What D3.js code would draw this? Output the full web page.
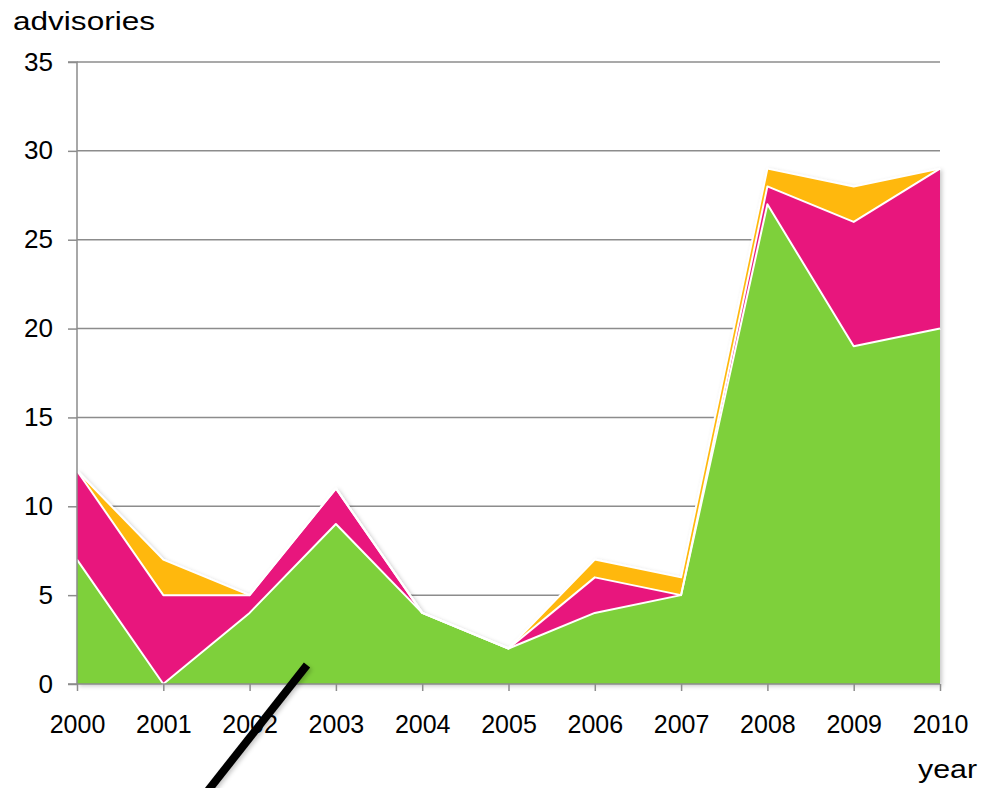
<!DOCTYPE html>
<html><head><meta charset="utf-8">
<script src="https://cdn.jsdelivr.net/npm/d3@7"></script>
<style>body{margin:0;background:#fff}text{font-family:"Liberation Sans",Arial,sans-serif}</style>
</head><body>
<svg id="c" width="984" height="788"></svg>
<script>
const years = [2000,2001,2002,2003,2004,2005,2006,2007,2008,2009,2010];
const greenVals  = [7,0,4,9,4,2,4,5,27,19,20];
const pinkVals   = [5,5,1,2,0,0,2,0,1,7,9];
const orangeVals = [0,2,0,0,0,0,1,1,1,2,0];
const yTicks = [0,5,10,15,20,25,30,35];
const seriesNames = ["green","pink","orange"];
const colors = {green:"#7ED03B", pink:"#E8197D", orange:"#FFB80C"};

const svg = d3.select("#c");
const x = d3.scaleLinear().domain([2000,2010]).range([77,940]);
const y = d3.scaleLinear().domain([0,35]).range([684,62]);

const defs = svg.append("defs");
const f = defs.append("filter").attr("id","sh").attr("x","-10%").attr("y","-10%").attr("width","130%").attr("height","130%");
f.append("feDropShadow").attr("dx",2).attr("dy",2).attr("stdDeviation",2).attr("flood-color","#000").attr("flood-opacity",0.22);

// gridlines
svg.append("g").selectAll("line").data(yTicks.filter(d=>d>0)).join("line")
  .attr("x1",x(2000)).attr("x2",x(2010)).attr("y1",d=>y(d)).attr("y2",d=>y(d))
  .attr("stroke","#8c8c8c").attr("stroke-width",1.5);

const table = years.map((yr,i)=>({year:yr, green:greenVals[i], pink:pinkVals[i], orange:orangeVals[i]}));
const stacked = d3.stack().keys(seriesNames)(table);

const area = d3.area().x(d=>x(d.data.year)).y0(d=>y(d[0])).y1(d=>y(d[1]));
const line = d3.line().x(d=>x(d.data.year)).y(d=>y(d[1]));

const g = svg.append("g").attr("filter","url(#sh)");
g.selectAll("path.a").data(stacked).join("path").attr("class","a")
  .attr("d",area).attr("fill",d=>colors[d.key]);
g.selectAll("path.l").data(stacked).join("path").attr("class","l")
  .attr("d",line).attr("fill","none").attr("stroke","#fff").attr("stroke-width",2).attr("stroke-linejoin","round");

// axes
const yAxis = d3.axisLeft(y).tickValues(yTicks).tickSize(9).tickPadding(15);
const ya = svg.append("g").attr("transform",`translate(${x(2000)},0)`).call(yAxis);
ya.select(".domain").attr("stroke","#8c8c8c").attr("stroke-width",1.5).attr("d",`M-9,${y(35)}H0V${y(0)}H-9`);
ya.selectAll(".tick line").attr("stroke","#8c8c8c").attr("stroke-width",1.5);
ya.selectAll("text").attr("font-size",25).attr("fill","#000").attr("textLength",d=>String(d).length*14.5).attr("lengthAdjust","spacingAndGlyphs");

const xAxis = d3.axisBottom(x).tickValues(years).tickFormat(d3.format("d")).tickSize(7).tickPadding(24);
const xa = svg.append("g").attr("transform",`translate(0,${y(0)})`).call(xAxis);
xa.select(".domain").attr("stroke","#8c8c8c").attr("stroke-width",1.5).attr("d",`M${x(2000)},0H${x(2010)}`);
xa.selectAll(".tick line").attr("stroke","#8c8c8c").attr("stroke-width",1.5);
xa.selectAll("text").attr("font-size",25).attr("fill","#000");

svg.append("text").attr("x",13).attr("y",30).attr("font-size",26).attr("textLength",142).attr("lengthAdjust","spacingAndGlyphs").text("advisories");
svg.append("text").attr("x",918).attr("y",778).attr("font-size",26).attr("textLength",59).attr("lengthAdjust","spacingAndGlyphs").text("year");

// black annotation stroke
svg.append("line").attr("x1",307).attr("y1",665).attr("x2",199).attr("y2",802)
  .attr("stroke","#000").attr("stroke-width",8).attr("filter","url(#sh)");
</script>
</body></html>
